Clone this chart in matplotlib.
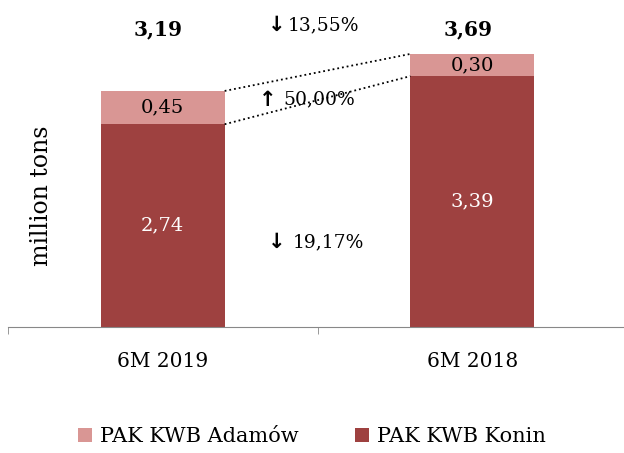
import matplotlib.pyplot as plt
from matplotlib.transforms import offset_copy

categories = ["6M 2019", "6M 2018"]
konin = [2.74, 3.39]
adamow = [0.45, 0.30]
totals = [3.19, 3.69]
konin_labels = ["2,74", "3,39"]
adamow_labels = ["0,45", "0,30"]
total_labels = ["3,19", "3,69"]
change_total = "13,55%"
change_adamow = "50,00%"
change_konin = "19,17%"

DARK = "#9E4140"
LIGHT = "#D99694"
FONT = ["DejaVu Serif", "DejaVu Sans"]
plt.rcParams["font.family"] = FONT

fig = plt.figure(figsize=(6.24, 4.53), dpi=100)
ax = fig.add_axes([8 / 624, 126 / 453, 616 / 624, 327 / 453])
x = [0, 1]
w = 0.40
ax.bar(x, konin, w, color=DARK, label="PAK KWB Konin")
ax.bar(x, adamow, w, bottom=konin, color=LIGHT, label="PAK KWB Adamów")
ax.set_xlim(-0.5, -0.5 + 616 / 309.5)
ax.set_ylim(0, 327 / 74)

for s in ["top", "right", "left"]:
    ax.spines[s].set_visible(False)
ax.spines["bottom"].set_color("#888888")
ax.set_yticks([])
ax.set_xticks(x)
ax.set_xticklabels(categories, fontsize=14.5)
ax.tick_params(axis="x", which="major", length=0, pad=18)
ax.set_xticks([-0.5, 0.5], minor=True)
ax.tick_params(axis="x", which="minor", length=5, color="#888888", direction="out")

for i in x:
    ax.text(i, konin[i] / 2, konin_labels[i], ha="center", va="center",
            color="white", fontsize=14)
    ax.text(i, konin[i] + adamow[i] / 2, adamow_labels[i], ha="center",
            va="center", color="black", fontsize=14)
    ax.text(i - 0.015, 4.02, total_labels[i], ha="center", va="center",
            fontsize=14.5, fontweight="bold")

# dotted connectors between bar tops
ax.plot([w / 2, 1 - w / 2], [totals[0], totals[1]], color="black", ls=":", lw=1.3)
ax.plot([w / 2, 1 - w / 2], [konin[0], konin[1]], color="black", ls=":", lw=1.3)


def change_note(xv, yv, arrow, txt, gap):
    ax.text(xv, yv, arrow, ha="right", va="center", fontsize=15,
            fontweight="bold", family="DejaVu Sans")
    tr = offset_copy(ax.transData, fig=fig, x=gap, y=0, units="dots")
    ax.text(xv, yv, txt, ha="left", va="center", fontsize=13.5, transform=tr)


change_note(0.395, 4.08, "\u2193", change_total, 3)
change_note(0.367, 3.07, "\u2191", change_adamow, 7)
change_note(0.395, 1.15, "\u2193", change_konin, 8)

fig.text(42 / 624, 1 - 196 / 453, "million tons", rotation=90, ha="center",
         va="center", fontsize=17)

handles, labels = ax.get_legend_handles_labels()
fig.legend(handles[::-1], labels[::-1], loc="center", bbox_to_anchor=(0.5, 1 - 437 / 453),
           ncol=2, frameon=False, fontsize=15, handlelength=0.65, handleheight=0.65,
           columnspacing=2.7, handletextpad=0.4)

fig.savefig("out.png", dpi=100)
